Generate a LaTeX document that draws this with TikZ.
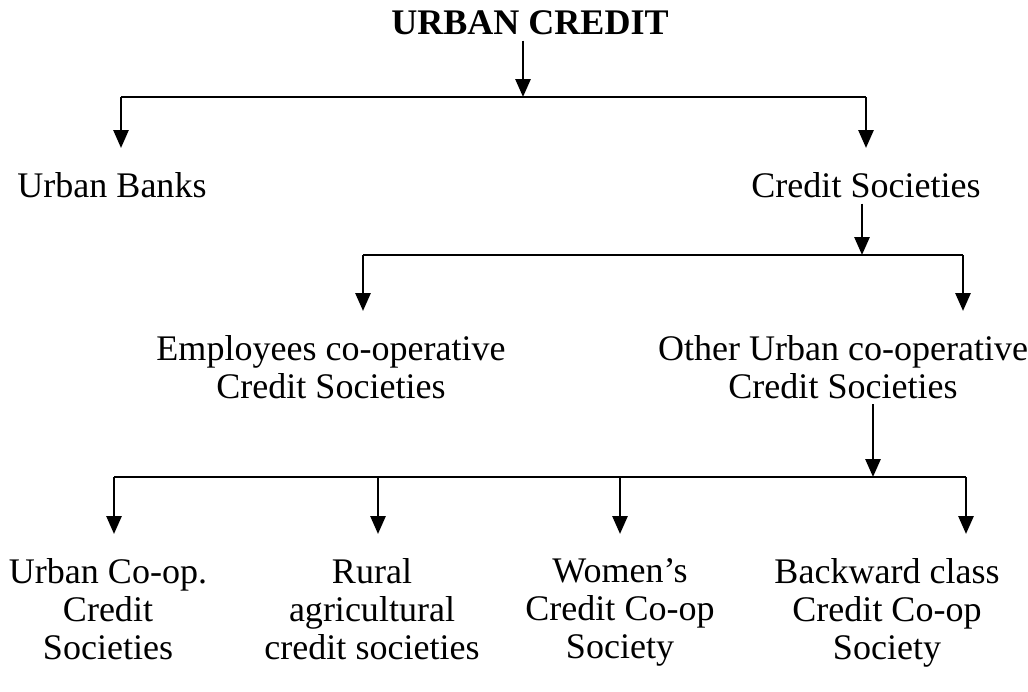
\documentclass[tikz,border=0pt]{standalone}
\usepackage{fontspec}
\setmainfont{Liberation Serif}
\usetikzlibrary{arrows.meta,calc,positioning}

\begin{document}
\begin{tikzpicture}[x=0.02cm,y=-0.02cm]
		\tikzstyle{lbl}=[font=\fontsize{20.5}{21.5}\selectfont, align=center, inner xsep=0pt, inner ysep=3pt, anchor=north]
		\tikzstyle{bar}=[line width=1.6pt]
		\tikzstyle{arr}=[bar, -{Triangle[length=0.36cm,width=0.3cm]}]
		\tikzstyle{drop}=[arr, shorten >=0.38cm]

		\useasboundingbox (0,0) rectangle (1028,691);

		\node[lbl, anchor=center, font=\fontsize{20.5}{21.5}\selectfont\bfseries] (UC) at (530,23) {URBAN CREDIT};

		\node[lbl] (UB) at (112,167) {Urban Banks};
		\node[lbl] (CS) at (866,167) {Credit Societies};

		\node[lbl] (ECS) at (331,330) {Employees co-operative\\Credit Societies};
		\node[lbl] (OCS) at (843,330) {Other Urban co-operative\\Credit Societies};

		\node[lbl] (UCS) at (108,553) {Urban Co-op.\\Credit\\Societies};
		\node[lbl] (RCS) at (372,553) {Rural\\agricultural\\credit societies};
		\node[lbl] (WCS) at (620,553) {Women's\\Credit Co-op\\Society};
		\node[lbl] (BCS) at (887,553) {Backward class\\Credit Co-op\\Society};

		% first level
		\coordinate (J1) at (523,97);
		\coordinate (J1L) at (121,97);
		\coordinate (J1R) at (866,97);
		\draw [arr] (UC.south -| J1) to (J1);
		\draw [bar] (J1L) to (J1R);
		\draw [drop] (J1L) to (J1L |- UB.north);
		\draw [drop] (J1R) to (J1R |- CS.north);

		% credit societies
		\coordinate (J2) at (862,255);
		\coordinate (J2L) at (363,255);
		\coordinate (J2R) at (963,255);
		\draw [arr] (CS.south -| J2) to (J2);
		\draw [bar] (J2L) to (J2R);
		\draw [drop] (J2L) to (J2L |- ECS.north);
		\draw [drop] (J2R) to (J2R |- OCS.north);

		% other urban societies
		\coordinate (J3) at (873,477);
		\coordinate (J3A) at (114,477);
		\coordinate (J3B) at (378,477);
		\coordinate (J3C) at (620,477);
		\coordinate (J3D) at (966,477);
		\draw [arr] (OCS.south -| J3) to (J3);
		\draw [bar] (J3A) to (J3D);
		\draw [drop] (J3A) to (J3A |- UCS.north);
		\draw [drop] (J3B) to (J3B |- RCS.north);
		\draw [drop] (J3C) to (J3C |- WCS.north);
		\draw [drop] (J3D) to (J3D |- BCS.north);

\end{tikzpicture}
\end{document}
